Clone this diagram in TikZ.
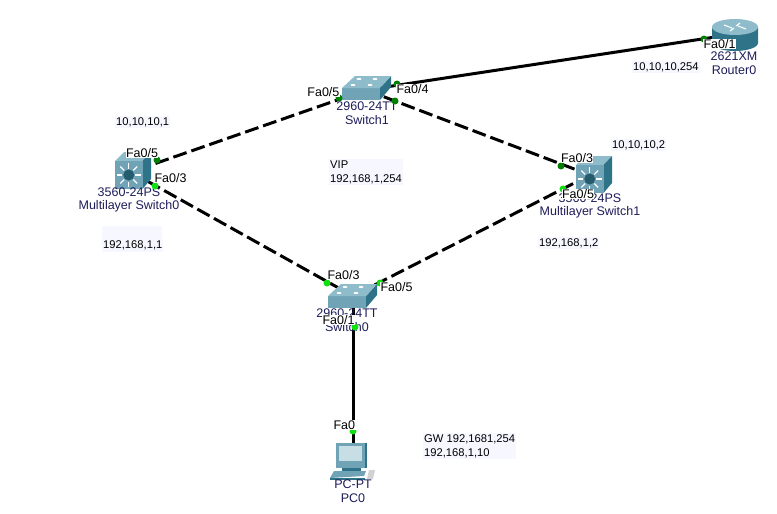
\documentclass[tikz,border=0pt]{standalone}
\usepackage{fontspec}
\setmainfont{Liberation Sans}
\usetikzlibrary{positioning, calc}
\definecolor{devtop}{HTML}{8FBCCB}
\definecolor{devfront}{HTML}{6FA3B5}
\definecolor{devside}{HTML}{2F7388}
\definecolor{devname}{HTML}{1C1C5A}
\definecolor{notebg}{HTML}{F6F7FF}
\definecolor{linkdark}{HTML}{008000}
\definecolor{linklive}{HTML}{10E010}
\tikzset{
	switchicon/.pic={
		\fill[devside] (38,0) -- (49,-12) -- (49,-1) -- (38,12) -- cycle;
		\fill[devfront] (0,0) rectangle (38,12);
		\fill[devtop] (0,0) -- (13,-12) -- (49,-12) -- (38,0) -- cycle;
		\foreach \a/\b in {17/-9,33/-9,11/-3,28/-3}
			\fill[white] (\a,\b) ellipse (2.5 and 1);
	},
	mlsicon/.pic={
		\fill[devtop] (0,0) -- (9,-9) -- (36,-9) -- (27.5,0) -- cycle;
		\fill[devside] (27.5,0) -- (36,-9) -- (36,18) -- (27.5,28) -- cycle;
		\fill[devfront] (0,0) rectangle (27.5,28);
		\foreach \r in {0,45,...,315}
			\draw[white, line width=1.2pt] ($(13.75,14)+(\r:6.5)$) -- ($(13.75,14)+(\r:12)$);
		\fill[devside!80!black] (13.75,14) circle (5.5);
	},
	routericon/.pic={
		\fill[devside] (-23,0) -- (-23,16) arc[start angle=180, end angle=0, x radius=23, y radius=8] -- (23,0) -- cycle;
		\fill[devtop] (0,0) ellipse (23 and 8);
		\draw[white, line width=1.1pt] (-11,-2) -- (-3,1) (3,-1) -- (11,2) (-5,4) -- (-1,1) (1,-1) -- (5,-4);
	},
	pcicon/.pic={
		\fill[devside] (0,0) rectangle (31,25);
		\fill[devfront] (0,0) rectangle (29,25);
		\fill[devtop!50!white] (3,3) rectangle (26,18);
		\fill[devside] (6,25) rectangle (25,28);
		\fill[devfront] (-2,28) -- (30,28) -- (28,33) -- (-6,35) -- cycle;
		\fill[devside] (-6,35) rectangle (29,37);
		\fill[gray!35] (33,27) -- (39,27) -- (37,36) -- (31,36) -- cycle;
	}
}
\begin{document}
\begin{tikzpicture}[x=1pt, y=-1pt,
		link/.style={line width=3pt, black},
		vpn/.style={link, dash pattern=on 14pt off 5pt},
		port/.style={fill=white, inner sep=0.4pt, font=\fontsize{12.5}{12.5}\selectfont},
		devlabel/.style={inner sep=0pt, text=devname, align=center, font=\fontsize{12.5}{13.5}\selectfont},
		note/.style={fill=notebg, inner sep=1pt, align=left, font=\fontsize{11.2}{14}\selectfont},
		dotdark/.style={circle, fill=linkdark, inner sep=0pt, minimum size=7pt},
		dotlive/.style={circle, fill=linklive, inner sep=0pt, minimum size=7pt}]
	\useasboundingbox (0,0) rectangle (777,514);
	% device centres, the links run between these
	\coordinate (Router0) at (735,34);
	\coordinate (Switch1) at (366,90);
	\coordinate (MLS0) at (131,172);
	\coordinate (MLS1) at (590,175);
	\coordinate (Switch0) at (353,296);
	\coordinate (PC0) at (353,460);

	\draw[link] (Switch1) -- (Router0);
	\draw[vpn] (Switch1) -- (MLS0);
	\draw[vpn] (Switch1) -- (MLS1);
	\draw[vpn] (MLS0) -- (Switch0);
	\draw[vpn] (MLS1) -- (Switch0);
	\draw[link] (Switch0) -- (PC0);

	% icons
	\pic at (735,27) {routericon};
	\pic at (342,88) {switchicon};
	\pic at (328,296) {switchicon};
	\pic at (115,161) {mlsicon};
	\pic at (576,165) {mlsicon};
	\pic at (336,443) {pcicon};

	% device names
	\node[devlabel] (nameR) at (734,63) {2621XM\\Router0};
	\node[devlabel] (nameS1) at (367,113) {2960-24TT\\Switch1};
	\node[devlabel] (nameM0) at (129,200) {3560-24PS\\Multilayer Switch0};
	\node[devlabel] (nameM1) at (590,206) {3560-24PS\\Multilayer Switch1};
	\node[devlabel] (nameS0) at (347,320) {2960-24TT\\Switch0};
	\node[devlabel] (namePC) at (353,491) {PC-PT\\PC0};

	% port dots and their labels
	\node[dotdark] (dotR) at (704,39) {};
	\node[port, anchor=west] at (703,44) {Fa0/1};
	\node[dotdark] (dotS1a) at (397,84) {};
	\node[dotdark] (dotS1b) at (395,101) {};
	\node[port, anchor=west] at (396,89) {Fa0/4};
	\node[dotdark] (dotS1c) at (339,98) {};
	\node[port, anchor=east] at (340,92) {Fa0/5};
	\node[dotdark] (dotM0a) at (157,160) {};
	\node[port] at (142,153) {Fa0/5};
	\node[dotlive] (dotM0b) at (155,186) {};
	\node[port, anchor=west] at (154,178) {Fa0/3};
	\node[dotdark] (dotM1a) at (561,166) {};
	\node[port] at (577,158) {Fa0/3};
	\node[dotlive] (dotM1b) at (563,189) {};
	\node[port] at (578,194) {Fa0/5};
	\node[dotlive] (dotS0a) at (327,283) {};
	\node[port, anchor=west] at (327,275) {Fa0/3};
	\node[dotlive] (dotS0b) at (380,283) {};
	\node[port, anchor=west] at (380,287) {Fa0/5};
	\node[dotlive] (dotS0c) at (355,327) {};
	\node[port, anchor=west] at (322,320) {Fa0/1};
	\node[dotlive] (dotPC) at (353,431) {};
	\node[port, anchor=west] at (333,425) {Fa0};

	% address notes
	\node[note, anchor=west] (noteR) at (632,67) {10,10,10,254};
	\node[note, anchor=west] (noteM0) at (115,122) {10,10,10,1};
	\fill[notebg] (102,226) rectangle (162,252);
	\node[note, anchor=west] (noteM0b) at (102,245) {192,168,1,1};
	\node[note, anchor=west] (noteM1) at (611,145) {10,10,10,2};
	\node[note, anchor=west] (noteM1b) at (538,243) {192,168,1,2};
	\node[note, anchor=west] (noteVip) at (329,172) {VIP\\192,168,1,254};
	\node[note, anchor=west] (notePC) at (423,446) {GW 192,1681,254\\192,168,1,10};
\end{tikzpicture}
\end{document}
